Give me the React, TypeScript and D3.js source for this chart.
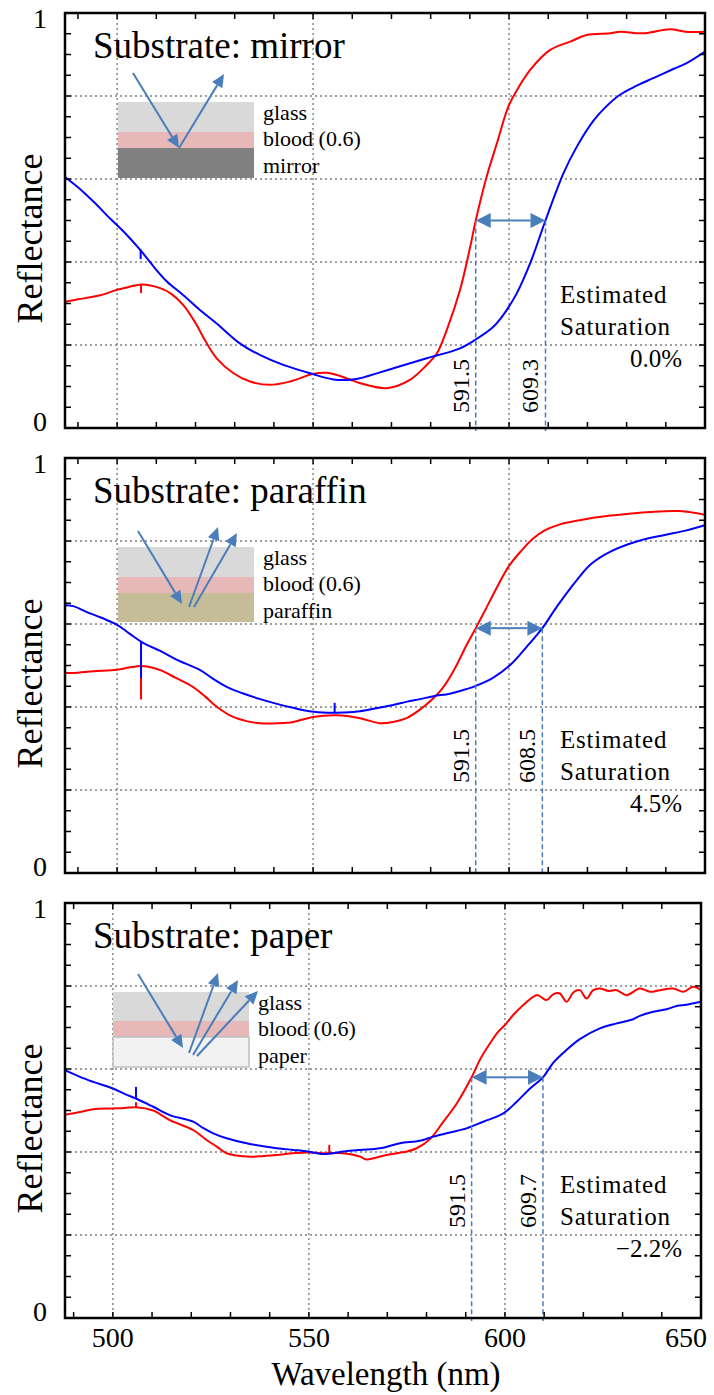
import React from "react";
import * as d3 from "d3";

type Pt = [number, number];
type Spike = [number, number, number]; // wavelength, curve level, spike tip

const FONT = "'Liberation Serif', 'Times New Roman', 'DejaVu Serif', serif";
const RED = "#ff0000";
const BLUE = "#0000ff";
const NOTE = "#4a7ebb";

// Reflectance spectra: [wavelength (nm), reflectance]
const mirrorRed: Pt[] = [
  [486.7, 0.304], [490, 0.31], [495.7, 0.32], [500, 0.333], [503, 0.34], [506.3, 0.346],
  [511, 0.337], [514, 0.322], [517, 0.295], [520, 0.253], [522.5, 0.21], [525.4, 0.168], [529.7, 0.132], [533.9, 0.112], [539, 0.104],
  [544.1, 0.112], [549.9, 0.13], [553.5, 0.133], [559.4, 0.117], [562, 0.108], [568.8, 0.096], [574.7, 0.116], [579, 0.152],
  [581.6, 0.18], [584.1, 0.236], [587.5, 0.333], [590.1, 0.437], [591.5, 0.5], [594.3, 0.606], [596.9, 0.686], [599.8, 0.774],
  [602, 0.814], [605.4, 0.863], [610.5, 0.911], [615.6, 0.931], [619.8, 0.947], [625.8, 0.951], [628.3, 0.955], [634.2, 0.951],
  [641.1, 0.961], [645, 0.955], [650, 0.955],
];
const mirrorBlue: Pt[] = [
  [486.7, 0.605], [490, 0.58], [494, 0.545], [498.6, 0.501], [502, 0.47], [505.9, 0.429],
  [509.3, 0.389], [512.7, 0.353], [516.9, 0.32], [521.2, 0.284], [525.4, 0.252], [531.3, 0.204], [536.4, 0.176], [542.4, 0.152],
  [549.9, 0.13], [555.2, 0.117], [559.4, 0.116], [562, 0.12], [570.5, 0.144], [579, 0.168], [587.5, 0.192], [591.3, 0.212],
  [596, 0.244], [598.5, 0.272], [602, 0.325], [605.4, 0.397], [609.3, 0.5], [613.9, 0.614], [617.3, 0.678], [621.5, 0.74],
  [624.5, 0.772], [628.3, 0.803], [632.6, 0.825], [636.8, 0.843], [641.9, 0.865], [645.3, 0.879], [650, 0.907],
];
const paraffinRed: Pt[] = [
  [486.7, 0.482], [488.8, 0.482], [494, 0.486], [500, 0.49], [503, 0.495], [506, 0.499],
  [508, 0.497], [511, 0.489], [515, 0.47], [519.4, 0.448], [522.5, 0.425], [525.5, 0.4], [529.6, 0.376], [533, 0.366],
  [536.5, 0.361], [541, 0.361], [545, 0.364], [550, 0.376], [556, 0.38], [562, 0.373], [567, 0.361], [570.4, 0.364],
  [574, 0.374], [577, 0.392], [580, 0.415], [583, 0.445], [586, 0.49], [589.2, 0.55], [591.5, 0.59], [594, 0.635],
  [597, 0.69], [600, 0.74], [603, 0.775], [606, 0.805], [609, 0.825], [613, 0.84], [618, 0.85], [623, 0.858], [630, 0.865],
  [636, 0.87], [643.6, 0.872], [650, 0.863],
];
const paraffinBlue: Pt[] = [
  [486.7, 0.645], [488.8, 0.643], [492, 0.63], [496, 0.615], [500, 0.598], [503, 0.578], [506, 0.558],
  [508, 0.548], [511, 0.535], [515, 0.515], [521.2, 0.489], [524.5, 0.468], [528.1, 0.448], [532, 0.433],
  [536.5, 0.419], [541, 0.407], [544.9, 0.398], [549, 0.39], [553.6, 0.386],
  [558, 0.387], [562, 0.39], [566, 0.397], [570.4, 0.405], [574, 0.413], [577.3, 0.419], [580.7, 0.426], [584.9, 0.432],
  [588, 0.44], [591.5, 0.451], [596, 0.471], [600.3, 0.501], [604.5, 0.545], [608.5, 0.59], [612.2, 0.642], [617.3, 0.706],
  [621, 0.745], [626, 0.775], [633, 0.8], [640, 0.815], [645, 0.825], [650, 0.838],
];
const paperRed: Pt[] = [
  [487.8, 0.49], [491, 0.495], [495, 0.503], [500, 0.505], [503, 0.506], [505.9, 0.508],
  [510.3, 0.5], [514.5, 0.477], [520.5, 0.453], [523.9, 0.429], [526.5, 0.413], [529, 0.397], [534.1, 0.389], [538, 0.39],
  [541.8, 0.393], [546, 0.397], [549.8, 0.399], [553.6, 0.397], [558.8, 0.397],
  [563, 0.389], [564.7, 0.382], [569.8, 0.393], [574.9, 0.401], [577.5, 0.409], [580.9, 0.431], [584.3, 0.473], [587.7, 0.517],
  [591.5, 0.58], [593.6, 0.622], [596.2, 0.662], [598.3, 0.69], [600, 0.706], [602.1, 0.73], [604.7, 0.754], [608.1, 0.778],
  [610.6, 0.766], [612.3, 0.78], [614, 0.782], [615.7, 0.762], [617.5, 0.785], [619.1, 0.79], [620.8, 0.77], [622.5, 0.79],
  [624.2, 0.794], [626.5, 0.788], [628.5, 0.79], [631, 0.778], [634.4, 0.794], [637, 0.786], [639.5, 0.79], [642.9, 0.794],
  [645.5, 0.786], [648, 0.798], [650, 0.79],
];
const paperBlue: Pt[] = [
  [487.8, 0.597], [491.6, 0.581], [495, 0.569], [500, 0.553], [503, 0.54], [505.9, 0.529],
  [510.3, 0.509], [514.5, 0.489], [520.5, 0.473], [523, 0.458], [525.6, 0.445], [529, 0.433], [534.1, 0.421], [541.8, 0.409],
  [546, 0.405], [549.8, 0.401], [553.6, 0.395], [556, 0.397], [558.8, 0.401], [563, 0.405], [568.1, 0.409], [573.2, 0.421],
  [578.3, 0.427], [581.7, 0.437], [586, 0.447], [590.2, 0.457], [594.5, 0.473], [599.6, 0.493], [603, 0.521], [606.4, 0.553],
  [609.7, 0.58], [612.3, 0.615], [615.7, 0.646], [619.1, 0.672], [624.2, 0.698], [628.5, 0.71], [632.7, 0.72], [634.4, 0.728],
  [637.8, 0.738], [641.2, 0.744], [643.8, 0.752], [646.3, 0.755], [650, 0.762],
];

// Narrow detector spikes: [wavelength, level, tip]
const mirrorRedSpikes: Spike[] = [[506.1, 0.346, 0.325]];
const mirrorBlueSpikes: Spike[] = [[506.0, 0.43, 0.407]];
const paraffinRedSpikes: Spike[] = [[506.1, 0.499, 0.418]];
const paraffinBlueSpikes: Spike[] = [[506.1, 0.557, 0.47], [555.5, 0.387, 0.41]];
const paperRedSpikes: Spike[] = [[505.9, 0.508, 0.52], [555.2, 0.397, 0.417]];
const paperBlueSpikes: Spike[] = [[505.9, 0.529, 0.557]];

const redSeries = [mirrorRed, paraffinRed, paperRed];
const blueSeries = [mirrorBlue, paraffinBlue, paperBlue];
const redSpikes = [mirrorRedSpikes, paraffinRedSpikes, paperRedSpikes];
const blueSpikes = [mirrorBlueSpikes, paraffinBlueSpikes, paperBlueSpikes];
const substrates = ["mirror", "paraffin", "paper"];
const substrateFills = ["#808080", "#c4bd97", "#f2f2f2"];
const layerNames = ["glass", "blood (0.6)"];
const redEdges = [591.5, 591.5, 591.5];
const blueEdges = [609.3, 608.5, 609.7];
const edgeLevels = [0.5, 0.59, 0.58];
const saturations = ["0.0%", "4.5%", "\u22122.2%"];
const xTickLabels = [500, 550, 600, 650];
const yTickLabels = [0, 1];
const gridWavelengths = [500, 550, 600];
const gridLevels = [0.2, 0.4, 0.6, 0.8];

// Layout
const W = 714;
const H = 1395;
const PH = 415;
const panelTops = [13, 458, 903];
const plotLeft = [65, 65, 65];
const plotRight = [705, 705, 701];
const wlStart = [486.7, 486.7, 487.8];
const edgeLabelBottom = [400, 325, 325];
const insetX = [[118, 254], [118, 254], [113, 249]];
const layerY = [[89, 119, 135, 165], [89, 119, 135, 164], [89, 118, 134, 164]];
const incoming = [[133, 60, 179, 135], [138, 73, 182, 146], [138, 71, 183, 145]];
const outgoing = [
  [[179, 135, 224, 61]],
  [[189, 149, 218, 69], [194, 149, 237, 75]],
  [[189, 150, 218, 70], [193, 152, 238, 77], [197, 153, 258, 88]],
];

function headPoints(x1: number, y1: number, x2: number, y2: number, len: number, hw: number) {
  const dx = x2 - x1, dy = y2 - y1;
  const d = Math.hypot(dx, dy);
  const ux = dx / d, uy = dy / d;
  const bx = x2 - ux * len, by = y2 - uy * len;
  const nx = -uy, ny = ux;
  return {
    pts: `${x2},${y2} ${bx + nx * hw},${by + ny * hw} ${bx - nx * hw},${by - ny * hw}`,
    bx, by,
  };
}

function Arrow({ x1, y1, x2, y2, len = 13, hw = 6, w = 2 }: any) {
  const h = headPoints(x1, y1, x2, y2, len, hw);
  return (
    <g>
      <line x1={x1} y1={y1} x2={h.bx} y2={h.by} stroke={NOTE} strokeWidth={w} />
      <polygon points={h.pts} fill={NOTE} />
    </g>
  );
}

const T = (props: any) => <text fontFamily={FONT} style={{ fontFamily: FONT }} fill="#000" {...props} />;

function Panel({ i }: { i: number }) {
  const top = panelTops[i];
  const bottom = top + PH;
  const left = plotLeft[i];
  const right = plotRight[i];
  const x = d3.scaleLinear().domain([wlStart[i], 650]).range([left, right]);
  const y = d3.scaleLinear().domain([0, 1]).range([bottom, top]);
  const line = d3.line<Pt>().x((d) => x(d[0])).y((d) => y(d[1])).curve(d3.curveCatmullRom.alpha(0.5));
  const xMinor = d3.range(490, 650, 10);
  const yMinor = d3.range(1, 20).map((k) => k * 0.05);
  const clipId = `clip-${i}`;
  const levelY = y(edgeLevels[i]);
  const xr = x(redEdges[i]);
  const xb = x(blueEdges[i]);
  const [ix0, ix1] = insetX[i];
  const ly = layerY[i].map((v) => top + v);
  const inc = incoming[i];
  const tickLen = 6;
  const grid = { stroke: "#7f7f7f", strokeWidth: 1.4, strokeDasharray: "2 3" };

  return (
    <g>
      <defs>
        <clipPath id={clipId}>
          <rect x={left} y={top} width={right - left} height={PH} />
        </clipPath>
      </defs>

      {/* grid */}
      {gridWavelengths.map((g) => (
        <line key={"gx" + g} x1={x(g)} x2={x(g)} y1={top} y2={bottom} {...grid} />
      ))}
      {gridLevels.map((g) => (
        <line key={"gy" + g} x1={left} x2={right} y1={y(g)} y2={y(g)} {...grid} />
      ))}

      {/* inset: layer stack */}
      <rect x={ix0} y={ly[0]} width={ix1 - ix0} height={ly[1] - ly[0]} fill="#d9d9d9" />
      <rect x={ix0} y={ly[1]} width={ix1 - ix0} height={ly[2] - ly[1]} fill="#e6b9b8" />
      <rect x={ix0} y={ly[2]} width={ix1 - ix0} height={ly[3] - ly[2]} fill={substrateFills[i]}
        stroke={i === 2 ? "#bfbfbf" : "none"} strokeWidth={1.5} />
      {[...layerNames, substrates[i]].map((t, k) => (
        <T key={t} x={ix1 + 9} y={top + [107, 133, 160][k]} fontSize={22}>{t}</T>
      ))}
      <Arrow x1={inc[0]} y1={top + inc[1]} x2={inc[2]} y2={top + inc[3]} />
      {outgoing[i].map((o, k) => (
        <Arrow key={k} x1={o[0]} y1={top + o[1]} x2={o[2]} y2={top + o[3]} />
      ))}

      {/* spectra */}
      <g clipPath={`url(#${clipId})`}>
        <path d={line(redSeries[i]) || ""} fill="none" stroke={RED} strokeWidth={2} strokeLinejoin="round" />
        {redSpikes[i].map((s, k) => (
          <line key={"rs" + k} x1={x(s[0])} x2={x(s[0])} y1={y(s[1])} y2={y(s[2])} stroke={RED} strokeWidth={2} />
        ))}
        <path d={line(blueSeries[i]) || ""} fill="none" stroke={BLUE} strokeWidth={2} strokeLinejoin="round" />
        {blueSpikes[i].map((s, k) => (
          <line key={"bs" + k} x1={x(s[0])} x2={x(s[0])} y1={y(s[1])} y2={y(s[2])} stroke={BLUE} strokeWidth={2} />
        ))}
      </g>

      {/* edge shift annotation */}
      <line x1={xr} x2={xr} y1={levelY} y2={bottom + 3} stroke={NOTE} strokeWidth={1.5} strokeDasharray="5 3" />
      <line x1={xb} x2={xb} y1={levelY} y2={bottom + 3} stroke={NOTE} strokeWidth={1.5} strokeDasharray="5 3" />
      <Arrow x1={(xr + xb) / 2} y1={levelY} x2={xb} y2={levelY} len={15} hw={7.5} />
      <Arrow x1={(xr + xb) / 2} y1={levelY} x2={xr} y2={levelY} len={15} hw={7.5} />
      {[redEdges[i], blueEdges[i]].map((v, k) => {
        const px = x(v) - 7;
        const py = top + edgeLabelBottom[i];
        return (
          <T key={k} x={px} y={py} transform={`rotate(-90 ${px} ${py})`} fontSize={24}>
            {v.toFixed(1)}
          </T>
        );
      })}
      <T x={560} y={top + 290} fontSize={25} letterSpacing={0.8}>Estimated</T>
      <T x={560} y={top + 322} fontSize={25} letterSpacing={0.8}>Saturation</T>
      <T x={682} y={top + 354} textAnchor="end" fontSize={25}>{saturations[i]}</T>

      {/* title */}
      <T x={93} y={top + 45} fontSize={37}>{`Substrate: ${substrates[i]}`}</T>

      {/* ticks */}
      {xMinor.map((t) => (
        <g key={"tx" + t}>
          <line x1={x(t)} x2={x(t)} y1={bottom} y2={bottom - tickLen} stroke="#000" strokeWidth={1.5} />
          <line x1={x(t)} x2={x(t)} y1={top} y2={top + tickLen} stroke="#000" strokeWidth={1.5} />
        </g>
      ))}
      {yMinor.map((t) => (
        <g key={"ty" + t}>
          <line x1={left} x2={left + tickLen} y1={y(t)} y2={y(t)} stroke="#000" strokeWidth={1.5} />
          <line x1={right} x2={right - tickLen} y1={y(t)} y2={y(t)} stroke="#000" strokeWidth={1.5} />
        </g>
      ))}

      {/* frame */}
      <rect x={left} y={top} width={right - left} height={PH} fill="none" stroke="#000" strokeWidth={2.5} />

      {/* y labels */}
      {yTickLabels.map((v) => (
        <T key={"yl" + v} x={40} y={y(v) + (v === 0 ? 3 : 15)} textAnchor="middle" fontSize={28}>
          {v}
        </T>
      ))}
      <T x={42} y={top + PH / 2 + 18} transform={`rotate(-90 42 ${top + PH / 2 + 18})`} textAnchor="middle"
        fontSize={36}>Reflectance</T>

      {/* x labels on the bottom panel */}
      {i === panelTops.length - 1 && (
        <g>
          {xTickLabels.map((t) => (
            <T key={"xl" + t} x={Math.min(x(t), W - 28)} y={bottom + 29} textAnchor="middle" fontSize={28}>
              {t}
            </T>
          ))}
          <T x={(left + right) / 2 + 3} y={bottom + 67} textAnchor="middle" fontSize={33}>
            Wavelength (nm)
          </T>
        </g>
      )}
    </g>
  );
}

export default function App() {
  return (
    <svg width={W} height={H} viewBox={`0 0 ${W} ${H}`}
      style={{ position: "absolute", left: 0, top: 0, display: "block", background: "#fff" }}>
      <rect width={W} height={H} fill="#fff" />
      {panelTops.map((_, i) => (
        <Panel key={i} i={i} />
      ))}
    </svg>
  );
}
